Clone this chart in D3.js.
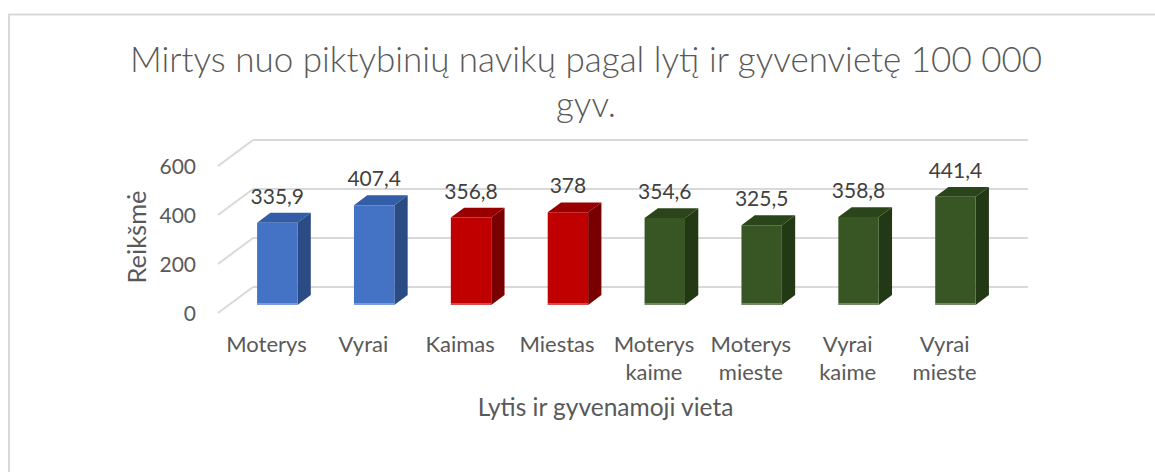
<!DOCTYPE html>
<meta charset="utf-8">
<style>
  body { margin: 0; background: #fff; }
  text { font-family: Lato, "Open Sans", sans-serif; }
</style>
<svg width="1155" height="472"></svg>
<script src="https://d3js.org/d3.v7.min.js"></script>
<script>

var categories = ["Moterys", "Vyrai", "Kaimas", "Miestas", "Moterys kaime", "Moterys mieste", "Vyrai kaime", "Vyrai mieste"];
var values = [335.9, 407.4, 356.8, 378, 354.6, 325.5, 358.8, 441.4];
var groups = ["lytis", "lytis", "vieta", "vieta", "abu", "abu", "abu", "abu"];
var yTicks = [0, 200, 400, 600];
var titleLines = ["Mirtys nuo piktybinių navikų pagal lytį ir gyvenvietę 100 000", "gyv."];

var svg = d3.select("svg"),
    width = +svg.attr("width"),
    height = +svg.attr("height");

// colours per group: front, top, side
var palette = {
  lytis: ["#4472C4", "#335DA6", "#2B4B85"],
  vieta: ["#C00000", "#980000", "#780000"],
  abu:   ["#375623", "#2B451B", "#233916"]
};

// back wall of the 3d box and the depth vector (back -> front)
var backX0 = 253, backX1 = 1028, floorY = 287,
    depthX = -35, depthY = 26,
    dFront = 0.69, dBack = 0.31;

var x = d3.scaleBand()
    .domain(categories)
    .range([backX0, backX1])
    .paddingInner(0.583)
    .paddingOuter(0.2915);

var y = d3.scaleLinear()
    .domain([0, 600])
    .range([0, 147]);

function P(px, v, d) {
  return [px + depthX * d, floorY + depthY * d - y(v)];
}

// chart border
svg.append("rect")
    .attr("x", 9).attr("y", 14.5)
    .attr("width", 1200).attr("height", 500)
    .attr("fill", "none")
    .attr("stroke", "#d9d9d9")
    .attr("stroke-width", 2);

// title
svg.append("text")
    .attr("text-anchor", "middle")
    .attr("fill", "#595959")
    .style("font-size", "35px")
    .style("font-weight", 300)
  .selectAll("tspan")
  .data(titleLines)
  .enter().append("tspan")
    .attr("x", 586)
    .attr("y", function(d, i) { return 72 + i * 45; })
    .text(function(d) { return d; });

// gridlines: back wall + left wall
var grid = svg.append("g")
    .attr("stroke", "#d9d9d9")
    .attr("stroke-width", 2)
    .attr("fill", "none");

yTicks.forEach(function(t) {
  var a = P(backX0, t, 0), b = P(backX1, t, 0), c = P(backX0, t, 1);
  grid.append("line").attr("x1", a[0]).attr("y1", a[1]).attr("x2", b[0]).attr("y2", b[1]);
  grid.append("line").attr("x1", c[0]).attr("y1", c[1]).attr("x2", a[0]).attr("y2", a[1]);
});

// y tick labels on the front plane
svg.append("g")
    .attr("fill", "#595959")
    .attr("text-anchor", "end")
    .style("font-size", "21px")
  .selectAll("text")
  .data(yTicks)
  .enter().append("text")
    .attr("x", 196)
    .attr("y", function(d) { return P(backX0, d, 1)[1]; })
    .attr("dy", "0.36em")
    .text(function(d) { return d; });

// bars
var bars = svg.append("g")
  .selectAll("g")
  .data(categories)
  .enter().append("g");

function poly(pts) { return "M" + pts.map(function(p) { return p.join(","); }).join("L") + "Z"; }

bars.each(function(c, i) {
  var g = d3.select(this),
      v = values[i],
      col = palette[groups[i]],
      x0 = x(c), x1 = x(c) + x.bandwidth();

  // top
  g.append("path")
      .attr("d", poly([P(x0, v, dFront), P(x1, v, dFront), P(x1, v, dBack), P(x0, v, dBack)]))
      .attr("fill", col[1]);
  // side
  g.append("path")
      .attr("d", poly([P(x1, 0, dFront), P(x1, 0, dBack), P(x1, v, dBack), P(x1, v, dFront)]))
      .attr("fill", col[2]);
  // front
  g.append("path")
      .attr("d", poly([P(x0, 0, dFront), P(x1, 0, dFront), P(x1, v, dFront), P(x0, v, dFront)]))
      .attr("fill", col[0]);
  // light bottom edge
  var b0 = P(x0, 0, dFront), b1 = P(x1, 0, dFront);
  g.append("line")
      .attr("x1", b0[0]).attr("y1", b0[1] - 1)
      .attr("x2", b1[0]).attr("y2", b1[1] - 1)
      .attr("stroke", "#ffffff")
      .attr("stroke-opacity", 0.3)
      .attr("stroke-width", 2);
});

// data labels
svg.append("g")
    .attr("fill", "#404040")
    .attr("text-anchor", "middle")
    .style("font-size", "21px")
  .selectAll("text")
  .data(categories)
  .enter().append("text")
    .attr("x", function(c) { return P(x(c) + x.bandwidth() / 2, 0, dFront)[0]; })
    .attr("y", function(c, i) { return P(x(c), values[i], dBack)[1] - 9; })
    .text(function(c, i) { return String(values[i]).replace(".", ","); });

// category labels on the front plane
var catLabels = svg.append("g")
    .attr("fill", "#595959")
    .attr("text-anchor", "middle")
    .style("font-size", "22px")
  .selectAll("text")
  .data(categories)
  .enter().append("text");

catLabels.selectAll("tspan")
  .data(function(c) {
    var cx = P(x(c) + x.bandwidth() / 2, 0, 1)[0];
    return c.split(" ").map(function(w) { return {w: w, cx: cx}; });
  })
  .enter().append("tspan")
    .attr("x", function(d) { return d.cx; })
    .attr("y", function(d, i) { return 352 + i * 28; })
    .text(function(d) { return d.w; });

// axis titles
svg.append("text")
    .attr("fill", "#595959")
    .attr("text-anchor", "middle")
    .style("font-size", "24.5px")
    .attr("x", (P(backX0, 0, 1)[0] + P(backX1, 0, 1)[0]) / 2)
    .attr("y", 416)
    .text("Lytis ir gyvenamoji vieta");

svg.append("text")
    .attr("fill", "#595959")
    .attr("text-anchor", "middle")
    .style("font-size", "25.5px")
    .attr("transform", "translate(146,237) rotate(-90)")
    .text("Reikšmė");

</script>
